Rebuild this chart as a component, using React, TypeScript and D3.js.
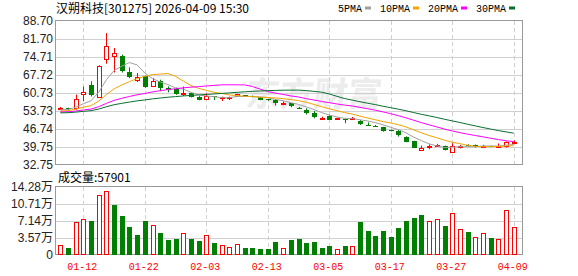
import React from 'react';
import * as d3 from 'd3';

// Trading days shown on the chart
const dates = [
  '01-07', '01-08', '01-09', '01-12', '01-13', '01-14', '01-15', '01-16', '01-19', '01-20',
  '01-21', '01-22', '01-23', '01-26', '01-27', '01-28', '01-29', '01-30', '02-02', '02-03',
  '02-04', '02-05', '02-06', '02-09', '02-10', '02-11', '02-12', '02-13', '02-24', '02-25',
  '02-26', '02-27', '03-02', '03-03', '03-04', '03-05', '03-06', '03-09', '03-10', '03-11',
  '03-12', '03-13', '03-16', '03-17', '03-18', '03-19', '03-20', '03-23', '03-24', '03-25',
  '03-26', '03-27', '03-30', '03-31', '04-01', '04-02', '04-03', '04-07', '04-08', '04-09',
];

const opens = [
  54.6, 54.9, 54.9, 60.2, 63.7, 59.3, 74.0, 75.0, 75.0, 68.9,
  65.8, 67.2, 63.7, 65.3, 62.7, 62.2, 60.4, 60.9, 59.3, 58.5,
  59.4, 58.8, 58.9, 59.6, 59.8, 59.6, 59.1, 58.2, 58.0, 56.6,
  56.7, 55.0, 54.1, 53.1, 50.8, 51.9, 50.5, 50.6, 50.8, 50.0,
  48.4, 48.0, 47.5, 46.3, 46.0, 43.8, 42.1, 38.5, 39.8, 40.2,
  40.2, 37.9, 40.0, 40.4, 40.6, 40.0, 40.1, 40.0, 39.9, 41.6,
];
const highs = [
  55.3, 55.0, 60.1, 63.2, 65.3, 71.5, 84.0, 78.2, 75.6, 70.7,
  68.5, 67.5, 66.6, 65.9, 63.3, 62.8, 63.2, 61.0, 59.5, 60.6,
  59.5, 59.3, 59.3, 60.4, 59.9, 59.7, 59.2, 58.3, 58.3, 57.5,
  56.8, 55.3, 54.8, 53.7, 51.5, 52.1, 51.1, 50.7, 51.4, 50.2,
  49.3, 48.3, 47.6, 46.5, 46.3, 43.9, 42.2, 40.3, 40.8, 41.0,
  40.3, 41.2, 40.5, 40.8, 40.7, 40.6, 40.3, 41.1, 41.9, 42.3,
];
const lows = [
  54.3, 54.3, 54.2, 57.6, 59.4, 58.9, 72.1, 68.7, 68.7, 66.5,
  65.0, 62.7, 63.3, 61.4, 61.0, 60.0, 59.6, 59.0, 57.9, 58.4,
  58.0, 57.6, 58.0, 59.5, 59.3, 59.0, 57.9, 57.7, 55.9, 56.0,
  55.2, 54.5, 52.4, 50.9, 50.7, 50.4, 50.4, 49.0, 50.5, 48.3,
  47.9, 47.6, 45.7, 45.8, 43.8, 41.6, 39.3, 38.4, 38.9, 39.9,
  38.4, 37.7, 39.2, 39.9, 39.6, 39.9, 39.8, 39.8, 39.5, 40.8,
];
const closes = [
  54.8, 54.5, 58.4, 61.0, 59.8, 71.4, 78.9, 76.3, 69.2, 67.0,
  66.8, 63.1, 65.5, 62.7, 62.0, 60.3, 60.7, 59.2, 58.0, 59.6,
  58.9, 59.0, 59.1, 60.3, 59.5, 59.1, 58.0, 57.9, 56.7, 56.8,
  55.4, 54.7, 53.1, 51.5, 51.0, 50.5, 51.0, 50.4, 51.0, 48.7,
  48.2, 47.8, 46.1, 46.0, 44.4, 41.8, 39.5, 39.2, 40.0, 40.4,
  38.5, 40.2, 40.3, 40.0, 40.1, 40.2, 40.0, 40.2, 41.6, 41.7,
];
// Daily volume, in units of 万 (10,000 lots)
const volumes = [
  2.09, 1.46, 6.84, 7.47, 7.11, 12.5, 13.4, 10.46, 8.16, 5.86,
  4.18, 7.11, 6.21, 4.6, 3.14, 3.35, 4.53, 3.35, 2.93, 4.11,
  2.44, 2.02, 1.67, 2.37, 1.46, 1.46, 1.25, 1.25, 2.65, 1.39,
  3.07, 3.35, 2.51, 2.65, 1.46, 1.88, 1.19, 1.88, 1.88, 6.84,
  5.02, 3.98, 5.02, 3.77, 5.65, 7.11, 7.74, 8.37, 7.04, 7.47,
  6.07, 8.72, 5.37, 4.81, 3.77, 4.53, 3.56, 3.28, 9.35, 5.7901,
];
// Closes before the first visible day, used to warm up the moving averages
const priorCloses = [
  52.3, 52.0, 51.8, 52.1, 52.4, 52.2, 52.6, 52.9, 52.5, 52.3,
  52.7, 53.0, 52.8, 52.6, 52.9, 53.2, 53.0, 52.8, 53.1, 53.4,
  53.2, 53.0, 53.3, 53.6, 53.5, 53.8, 54.0, 54.2, 54.1,
];

const priceTicks = ['88.70', '81.70', '74.71', '67.72', '60.73', '53.73', '46.74', '39.75', '32.75'];
const volumeTicks = ['14.28', '10.71', '7.14', '3.57', '0'];
const dateTicks = ['01-12', '01-22', '02-03', '02-13', '03-05', '03-17', '03-27', '04-09'];
const maPeriods = [5, 10, 20, 30];
const maNames = ['5PMA', '10PMA', '20PMA', '30PMA'];
const maColors = ['#a0a0a0', '#f4a300', '#ff00ff', '#0a6e32'];

const stockName = '汉朔科技';
const stockCode = '301275';
const stamp = '2026-04-09 15:30';

const W = 578;
const H = 276;
const LEFT = 56;
const RIGHT = 522;
const P_TOP = 21;
const P_BOTTOM = 165;
const V_TOP = 187;
const V_BOTTOM = 255;
const RED = '#ff0000';
const GREEN = '#008000';
const GRID = '#d0d0d0';
const FRAME = '#999999';
const LABEL_FONT = '"Liberation Sans", Arial, "Noto Sans CJK SC", sans-serif';
const MONO_FONT = '"Liberation Mono", "DejaVu Sans Mono", monospace';
const CJK_FONT = '"Noto Sans CJK SC", "Liberation Sans", sans-serif';

const priceNums = priceTicks.map(Number);
const volNums = volumeTicks.map(Number);

const x = d3.scalePoint<string>().domain(dates).range([60.3, 513.7]);
const yPrice = d3
  .scaleLinear()
  .domain([d3.min(priceNums)!, d3.max(priceNums)!])
  .range([P_BOTTOM, P_TOP]);
const yVol = d3
  .scaleLinear()
  .domain([0, d3.max(volNums)!])
  .range([V_BOTTOM, V_TOP]);

const allCloses = [...priorCloses, ...closes];
const movingAverages = maPeriods.map((n) =>
  closes.map((_, i) => {
    const end = priorCloses.length + i + 1;
    return d3.mean(allCloses.slice(end - n, end))!;
  })
);

const BODY_W = 5;

export default function App() {
  const line = d3
    .line<number>()
    .x((_, i) => x(dates[i])!)
    .y((v) => yPrice(v));

  const px = (v: number) => Math.round(v) + 0.5;

  // legend layout: text followed by a small colour swatch
  let legendX = 338;
  const legendItems = maNames.map((name, k) => {
    const item = { name, color: maColors[k], x: legendX };
    legendX += name.length * 6 + 18;
    return item;
  });

  return (
    <svg
      width={W}
      height={H}
      style={{ position: 'absolute', left: 0, top: 0, background: '#fff' }}
    >
      {/* title */}
      <text x={56} y={8.5} dy="0.35em" fontSize={12} fontFamily={CJK_FONT} fill="#000">
        {`${stockName}[${stockCode}] ${stamp}`}
      </text>

      {/* legend */}
      {legendItems.map((it) => (
        <g key={it.name}>
          <text x={it.x} y={8} dy="0.35em" fontSize={10} fontFamily={MONO_FONT} fill="#000">
            {it.name}
          </text>
          <rect x={it.x + it.name.length * 6 + 3} y={6.5} width={6} height={3} fill={it.color} />
        </g>
      ))}

      {/* watermark */}
      <text
        x={246}
        y={94}
        dy="0.35em"
        fontSize={34}
        fontWeight="bold"
        fontFamily={CJK_FONT}
        fill="#ececec"
        transform="skewX(-6) translate(10,0)"
      >
        东方财富
      </text>

      {/* price grid */}
      {priceNums.map((v, k) => (
        <g key={'pg' + k}>
          {k > 0 && k < priceNums.length - 1 && (
            <line x1={LEFT} x2={RIGHT} y1={px(yPrice(v))} y2={px(yPrice(v))} stroke={GRID} />
          )}
          <text
            x={53}
            y={yPrice(v)}
            dy="0.35em"
            textAnchor="end"
            fontSize={12}
            fontFamily={LABEL_FONT}
            fill="#222"
          >
            {priceTicks[k]}
          </text>
        </g>
      ))}

      {/* volume grid */}
      {volNums.map((v, k) => (
        <g key={'vg' + k}>
          {k > 0 && k < volNums.length - 1 && (
            <line x1={LEFT} x2={RIGHT} y1={px(yVol(v))} y2={px(yVol(v))} stroke={GRID} />
          )}
          <text
            x={53}
            y={yVol(v)}
            dy="0.35em"
            textAnchor="end"
            fontSize={12}
            fontFamily={LABEL_FONT}
            fill="#222"
          >
            {v === 0 ? volumeTicks[k] : `${volumeTicks[k]}万`}
          </text>
        </g>
      ))}

      {/* date grid and labels */}
      {dateTicks.map((d) => {
        const cx = px(x(d)!);
        return (
          <g key={'dg' + d}>
            <line x1={cx} x2={cx} y1={P_TOP} y2={P_BOTTOM} stroke={GRID} strokeDasharray="4,3" />
            <line x1={cx} x2={cx} y1={V_TOP} y2={V_BOTTOM} stroke={GRID} strokeDasharray="4,3" />
            <text
              x={x(d)! - 1}
              y={266}
              dy="0.35em"
              textAnchor="middle"
              fontSize={10}
              fontFamily={MONO_FONT}
              fill={RED}
            >
              {d}
            </text>
          </g>
        );
      })}

      {/* frames */}
      <rect x={LEFT - 0.5} y={P_TOP - 0.5} width={RIGHT - LEFT + 1} height={P_BOTTOM - P_TOP} fill="none" stroke={FRAME} />
      <rect x={LEFT - 0.5} y={V_TOP - 0.5} width={RIGHT - LEFT + 1} height={V_BOTTOM - V_TOP} fill="none" stroke={FRAME} />

      {/* candlesticks */}
      {dates.map((d, i) => {
        const cx = Math.round(x(d)!);
        const up = closes[i] >= opens[i];
        const color = up ? RED : GREEN;
        const top = yPrice(Math.max(opens[i], closes[i]));
        const bot = yPrice(Math.min(opens[i], closes[i]));
        const h = Math.max(1, bot - top);
        return (
          <g key={'c' + i}>
            <line
              x1={cx + 0.5}
              x2={cx + 0.5}
              y1={yPrice(highs[i])}
              y2={yPrice(lows[i])}
              stroke={color}
            />
            {up ? (
              <rect
                x={cx - 2 + 0.5}
                y={Math.round(top) + 0.5}
                width={BODY_W - 1}
                height={Math.max(1, Math.round(h))}
                fill="#fff"
                stroke={color}
              />
            ) : (
              <rect
                x={cx - 2}
                y={Math.round(top)}
                width={BODY_W}
                height={Math.max(1, Math.round(h))}
                fill={color}
              />
            )}
          </g>
        );
      })}

      {/* moving averages */}
      {movingAverages.map((ma, k) => (
        <path key={'ma' + k} d={line(ma)!} fill="none" stroke={maColors[k]} strokeWidth={1} />
      ))}

      {/* volume */}
      <text x={58} y={178} dy="0.35em" fontSize={12} fontFamily={CJK_FONT} fill="#000">
        {`成交量:${Math.round(volumes[volumes.length - 1] * 10000)}`}
      </text>
      {dates.map((d, i) => {
        const cx = Math.round(x(d)!);
        const prev = i === 0 ? opens[0] : closes[i - 1];
        const up = closes[i] >= prev;
        const top = Math.round(yVol(volumes[i]));
        return up ? (
          <rect
            key={'v' + i}
            x={cx - 2 + 0.5}
            y={top + 0.5}
            width={BODY_W - 1}
            height={V_BOTTOM - top - 1}
            fill="#fff"
            stroke={RED}
          />
        ) : (
          <rect
            key={'v' + i}
            x={cx - 2}
            y={top}
            width={BODY_W}
            height={V_BOTTOM - top}
            fill={GREEN}
          />
        );
      })}
    </svg>
  );
}
